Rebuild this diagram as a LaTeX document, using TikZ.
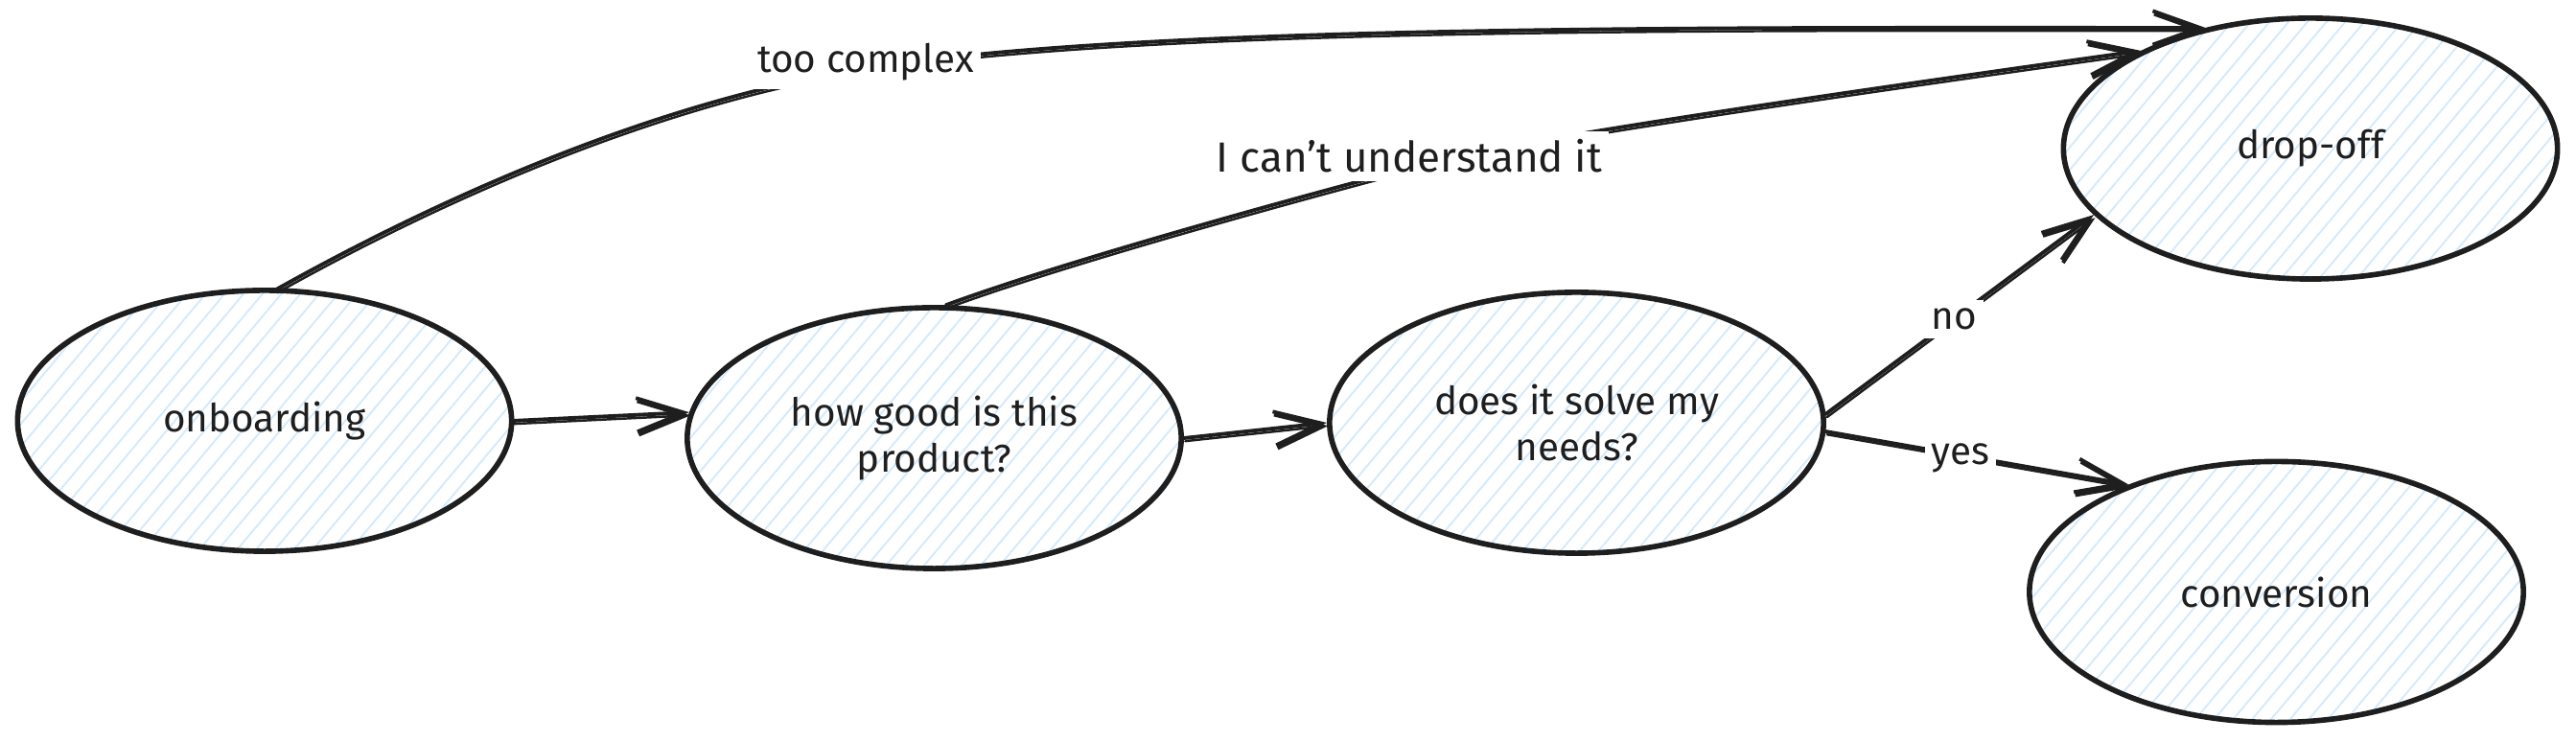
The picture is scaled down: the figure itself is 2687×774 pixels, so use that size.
\documentclass[tikz,border=0pt]{standalone}
\usepackage{fontspec}
\setmainfont{Fira Sans}
\usetikzlibrary{shapes.geometric,arrows.meta,patterns.meta}
\definecolor{ink}{HTML}{1E1E1E}
\definecolor{hatch}{RGB}{212,234,252}
\begin{document}
\begin{tikzpicture}[x=0.01cm,y=-0.01cm,
  txt/.style={font=\fontsize{11.5pt}{13.7pt}\selectfont, text=ink},
  state/.style={txt, ellipse, draw=ink, line width=1.6pt, minimum width=5.15cm, minimum height=2.72cm,
    inner sep=0pt, align=center,
    pattern={Lines[angle=50,distance=4.3pt,line width=0.55pt]}, pattern color=hatch},
  conn/.style={draw=ink, line width=1.1pt, line cap=round, line join=round,
    -{Straight Barb[length=14pt,width=10pt,line width=1.1pt]},
    postaction={draw=ink, line width=0.7pt, transform canvas={shift={(0.4pt,-0.9pt)}}}},
  lbl/.style={txt, fill=white, inner xsep=2pt, inner ysep=2.5pt}]
\useasboundingbox (0,0) rectangle (2687,774);
\node[state] (onb)  at (276,439)     {onboarding};
\node[state] (hg)   at (974.5,457)   {how good is this\\product?};
\node[state] (does) at (1644.5,441)  {does it solve my\\needs?};
\node[state] (drop) at (2410,155)    {drop-off};
\node[state] (conv) at (2374.5,617.5){conversion};

\draw[conn] (onb.east) -- (hg.174);
\draw[conn] (hg.east) -- (does.west);
\draw[conn] (does.2) -- (drop.197);
\node[lbl] (no) at (2038,333) {no};
\draw[conn] (does.-2) -- (conv.144);
\node[lbl] (yes) at (2045,478) {yes};

\draw[conn] (onb.85) .. controls +(200,-112) and +(-200,30) .. (910,70)
  .. controls +(300,-45) and +(-500,0) .. (drop.131);
\node[lbl] (tc) at (903,65) {too complex};

\draw[conn] (hg.85) .. controls +(130,-48) and +(-130,33) .. (1518,163)
  .. controls +(150,-30) and +(-250,35) .. (drop.150);
\node[lbl, font=\fontsize{12.5pt}{14pt}\selectfont] (cu) at (1470,163) {I can't understand it};
\end{tikzpicture}
\end{document}
